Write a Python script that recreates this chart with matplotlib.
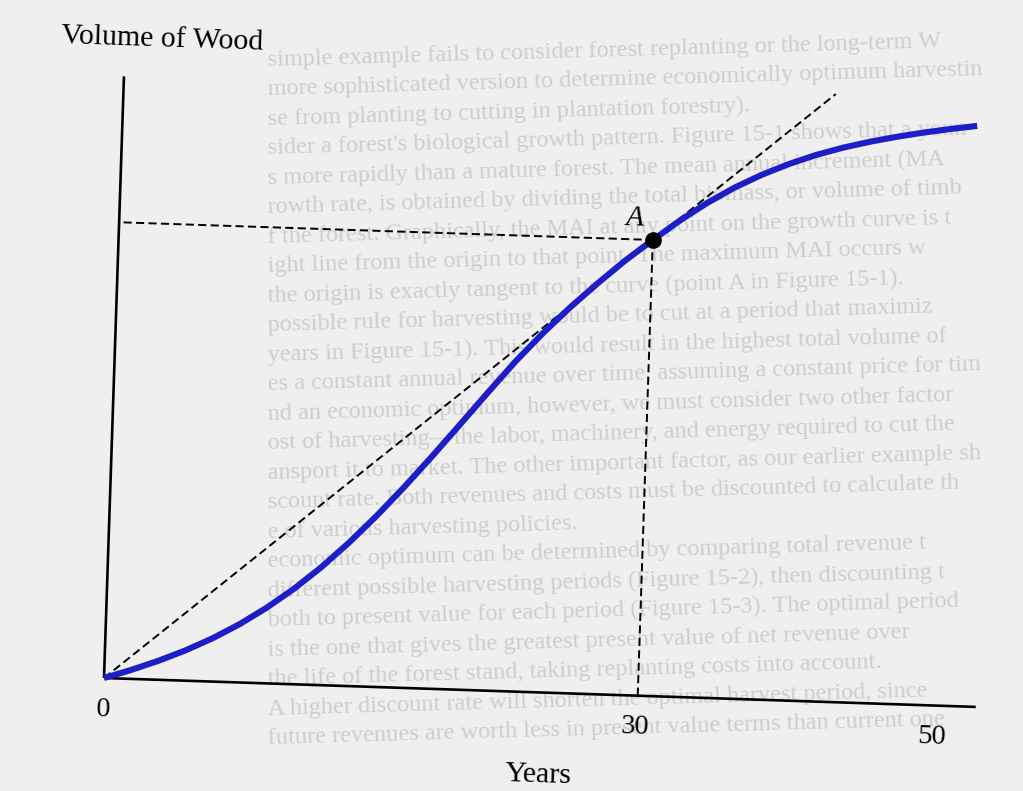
import numpy as np
import matplotlib
matplotlib.use("Agg")
import matplotlib.pyplot as plt
import matplotlib.transforms as mtransforms

# growth curve (years, volume with A = 100)
years = [0, 1.5, 3, 4.5, 6, 7.5, 9, 10.5, 12, 13.5, 15, 16.5, 18, 19.5, 21, 22.5,
         24, 25.5, 27, 28.5, 30, 31.5, 33, 34.5, 36, 37.5, 39, 40.5, 42, 43.5, 45, 46.5, 48]
volume = [0, 1.95, 4.13, 6.6, 9.45, 12.75, 16.58, 20.93, 25.88, 31.43, 37.5, 44.03,
          50.93, 58.05, 65.25, 72.3, 78.75, 84.68, 90.15, 95.33, 100.0, 104.5, 108.55,
          112.08, 115.08, 117.63, 119.8, 121.6, 123.1, 124.38, 125.5, 126.48, 127.35]

point_a = (30.0, 100.0)
tangent_end = (40.0, 133.3)
x_axis_end = 49.0
y_axis_end = 132.0

tick_labels = ["0", "30", "50"]
tick_pos = [0.0, 29.9, 46.6]

# faint text showing through from the page behind
page_lines = [
    "simple example fails to consider forest replanting or the long-term W",
    "more sophisticated version to determine economically optimum harvestin",
    "se from planting to cutting in plantation forestry).",
    "sider a forest's biological growth pattern. Figure 15-1 shows that a youn",
    "s more rapidly than a mature forest. The mean annual increment (MA",
    "rowth rate, is obtained by dividing the total biomass, or volume of timb",
    "f the forest. Graphically, the MAI at any point on the growth curve is t",
    "ight line from the origin to that point. The maximum MAI occurs w",
    "the origin is exactly tangent to the curve (point A in Figure 15-1).",
    "possible rule for harvesting would be to cut at a period that maximiz",
    "years in Figure 15-1). This would result in the highest total volume of",
    "es a constant annual revenue over time, assuming a constant price for tim",
    "nd an economic optimum, however, we must consider two other factor",
    "ost of harvesting\u2014the labor, machinery, and energy required to cut the",
    "ansport it to market. The other important factor, as our earlier example sh",
    "scount rate. Both revenues and costs must be discounted to calculate th",
    "e of various harvesting policies.",
    "economic optimum can be determined by comparing total revenue t",
    "different possible harvesting periods (Figure 15-2), then discounting t",
    "both to present value for each period (Figure 15-3). The optimal period",
    "is the one that gives the greatest present value of net revenue over",
    "the life of the forest stand, taking replanting costs into account.",
    "A higher discount rate will shorten the optimal harvest period, since",
    "future revenues are worth less in present value terms than current one",
]

W, H = 1023, 791
fig = plt.figure(figsize=(W / 100, H / 100), dpi=100)
fig.patch.set_facecolor("#efefef")
ax = fig.add_axes([0, 0, 1, 1])
ax.set_xlim(0, W)
ax.set_ylim(0, H)
ax.axis("off")

serif = ["Liberation Serif", "DejaVu Serif"]

# page text behind the figure
for i, line in enumerate(page_lines):
    ax.text(268, H - 66 - i * 29.5, line, fontsize=17.5, family=serif, color="#cdcdcd",
            ha="left", va="baseline", rotation=1.6, rotation_mode="anchor", zorder=0)

# the scanned figure is tilted a little, so draw in chart units then rotate
tilt = -1.9
tf = mtransforms.Affine2D().scale(17.8, 4.56).rotate_deg(tilt).translate(104, H - 678) + ax.transData

# axes
ax.plot([0, 0], [0, y_axis_end], color="black", lw=1.9, transform=tf, zorder=3,
        solid_capstyle="butt")
ax.plot([0, x_axis_end], [0, 0], color="black", lw=1.9, transform=tf, zorder=3,
        solid_capstyle="butt")

# dashed guides
dash = dict(color="black", lw=1.4, dashes=(4.2, 2.2), transform=tf, zorder=2)
ax.plot([0, tangent_end[0]], [0, tangent_end[1]], **dash)
ax.plot([0.25, point_a[0]], [point_a[1], point_a[1]], **dash)
ax.plot([point_a[0], point_a[0]], [0, point_a[1]], **dash)

# growth curve
ax.plot(years, volume, color="#1e1ec8", lw=4.4, transform=tf, zorder=4,
        solid_capstyle="butt", solid_joinstyle="round")
ax.plot([point_a[0]], [point_a[1]], "o", color="black", ms=11, transform=tf, zorder=5)

# labels
ax.text(point_a[0] - 1.05, point_a[1] + 4.7, "A", fontsize=21, family=serif, style="italic",
        ha="center", va="center", rotation=tilt, rotation_mode="anchor", transform=tf)
for pos, lab in zip(tick_pos, tick_labels):
    ax.text(pos, -6.9, lab, fontsize=20.5, family=serif, ha="center", va="center",
            rotation=tilt, rotation_mode="anchor", transform=tf)
ax.text(24.55, -18.1, "Years", fontsize=21.5, family=serif, ha="center", va="center",
        rotation=tilt, rotation_mode="anchor", transform=tf)
ax.text(2.1, 140.3, "Volume of Wood", fontsize=21.5, family=serif, ha="center", va="center",
        rotation=tilt, rotation_mode="anchor", transform=tf)

fig.savefig("out.png", dpi=100, facecolor=fig.get_facecolor())
